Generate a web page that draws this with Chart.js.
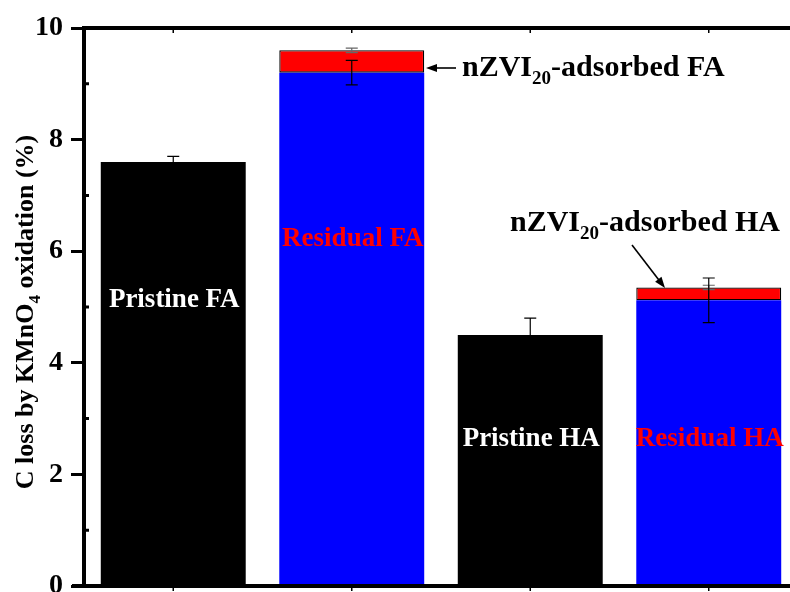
<!DOCTYPE html>
<html>
<head>
<meta charset="utf-8">
<script src="https://cdn.jsdelivr.net/npm/chart.js@4/dist/chart.umd.min.js"></script>
<style>
  html, body { margin: 0; padding: 0; background: #fff; overflow: hidden; }
  #wrap { position: relative; width: 790px; height: 592px; overflow: hidden; }
  #c { position: absolute; left: 0; top: 0; }
</style>
</head>
<body>
<div id="wrap"><canvas id="c" width="820" height="592"></canvas></div>
<script>
// Carbon loss by KMnO4 oxidation for pristine and residual fulvic / humic acid
const categories = ['Pristine FA', 'Residual FA', 'Pristine HA', 'Residual HA'];
const baseValues = [7.6, 9.2, 4.5, 5.12];          // pristine or residual fraction (%)
const adsorbedValues = [null, 0.4, null, 0.23];    // nZVI20-adsorbed fraction stacked on top (%)
const baseErrors = [0.1, 0.22, 0.3, 0.4];          // error of the lower segment
const totalErrors = [null, 0.04, null, 0.04];      // error of the stacked total
const yTicks = [0, 2, 4, 6, 8, 10];
const yMinorTicks = [1, 3, 5, 7, 9];

const SERIF = "'Liberation Serif', 'Times New Roman', Times, serif";
const barColors = ['#000000', '#0000ff', '#000000', '#0000ff'];
const labelColors = ['#ffffff', '#ff0000', '#ffffff', '#ff0000'];

// draw text made of normal and subscript runs
function richWidth(ctx, parts, size) {
  let w = 0;
  for (const p of parts) {
    ctx.font = 'bold ' + (p.sub ? Math.round(size * 0.64) : size) + 'px ' + SERIF;
    w += ctx.measureText(p.t).width;
  }
  return w;
}
function drawRich(ctx, parts, x, y, size, align) {
  const total = richWidth(ctx, parts, size);
  let cx = align === 'center' ? x - total / 2 : x;
  ctx.textAlign = 'left';
  ctx.textBaseline = 'alphabetic';
  for (const p of parts) {
    const fs = p.sub ? Math.round(size * 0.64) : size;
    ctx.font = 'bold ' + fs + 'px ' + SERIF;
    ctx.fillText(p.t, cx, p.sub ? y + size * 0.28 : y);
    cx += ctx.measureText(p.t).width;
  }
}
function arrow(ctx, x1, y1, x2, y2) {
  const ang = Math.atan2(y2 - y1, x2 - x1);
  const hl = 11, hw = 4;
  ctx.beginPath();
  ctx.moveTo(x1, y1);
  ctx.lineTo(x2 - Math.cos(ang) * hl * 0.8, y2 - Math.sin(ang) * hl * 0.8);
  ctx.stroke();
  ctx.beginPath();
  ctx.moveTo(x2, y2);
  ctx.lineTo(x2 - Math.cos(ang) * hl - Math.sin(ang) * hw, y2 - Math.sin(ang) * hl + Math.cos(ang) * hw);
  ctx.lineTo(x2 - Math.cos(ang) * hl + Math.sin(ang) * hw, y2 - Math.sin(ang) * hl - Math.cos(ang) * hw);
  ctx.closePath();
  ctx.fill();
}

const decorations = {
  id: 'decorations',
  afterDatasetsDraw(chart) {
    const ctx = chart.ctx;
    const area = chart.chartArea;
    const y = chart.scales.y;
    const x = chart.scales.x;
    ctx.save();

    // error bars
    const cap = 6;
    function errBar(cx, v, e, color) {
      const t = y.getPixelForValue(v + e), b = y.getPixelForValue(v - e);
      ctx.strokeStyle = color;
      ctx.lineWidth = 1.2;
      ctx.beginPath();
      ctx.moveTo(cx, t); ctx.lineTo(cx, b);
      ctx.moveTo(cx - cap, t); ctx.lineTo(cx + cap, t);
      ctx.moveTo(cx - cap, b); ctx.lineTo(cx + cap, b);
      ctx.stroke();
    }
    categories.forEach((c, i) => {
      const cx = x.getPixelForValue(i);
      if (totalErrors[i] != null) errBar(cx, baseValues[i] + adsorbedValues[i], totalErrors[i], '#666666');
      errBar(cx, baseValues[i], baseErrors[i], '#000000');
    });

    // labels inside the bars
    const labelBaselines = [307, 246, 446, 446];
    ctx.textAlign = 'center';
    ctx.textBaseline = 'alphabetic';
    ctx.font = 'bold 27px ' + SERIF;
    categories.forEach((c, i) => {
      ctx.fillStyle = labelColors[i];
      ctx.fillText(c, x.getPixelForValue(i) + 1, labelBaselines[i]);
    });

    // annotations for the adsorbed fraction
    ctx.fillStyle = '#000';
    ctx.strokeStyle = '#000';
    ctx.lineWidth = 1.6;
    drawRich(ctx, [{ t: 'nZVI' }, { t: '20', sub: true }, { t: '-adsorbed FA' }], 462, 76, 30, 'left');
    drawRich(ctx, [{ t: 'nZVI' }, { t: '20', sub: true }, { t: '-adsorbed HA' }], 510, 231, 30, 'left');
    arrow(ctx, 456, 68, 426, 68);
    arrow(ctx, 632, 245, 665, 288);

    // frame: top line and bottom axis
    ctx.strokeStyle = '#000';
    ctx.lineWidth = 4;
    ctx.beginPath();
    ctx.moveTo(area.left - 2, area.top); ctx.lineTo(area.right + 30, area.top);
    ctx.moveTo(area.left - 12, area.bottom); ctx.lineTo(area.right + 30, area.bottom);
    ctx.stroke();

    // category ticks on top and bottom
    ctx.lineWidth = 1.5;
    ctx.beginPath();
    categories.forEach((c, i) => {
      const cx = x.getPixelForValue(i);
      ctx.moveTo(cx, area.top); ctx.lineTo(cx, area.top + 5);
      ctx.moveTo(cx, area.bottom); ctx.lineTo(cx, area.bottom + 5);
    });
    ctx.stroke();

    // minor ticks on the value axis, pointing inward
    ctx.lineWidth = 3;
    ctx.beginPath();
    yMinorTicks.forEach(v => {
      const py = y.getPixelForValue(v);
      ctx.moveTo(area.left, py); ctx.lineTo(area.left + 5, py);
    });
    ctx.stroke();

    // value axis title
    ctx.save();
    ctx.translate(33, 312);
    ctx.rotate(-Math.PI / 2);
    ctx.fillStyle = '#000';
    drawRich(ctx, [{ t: 'C loss by KMnO' }, { t: '4', sub: true }, { t: ' oxidation (%)' }], 0, 0, 26, 'center');
    ctx.restore();

    ctx.restore();
  }
};

new Chart(document.getElementById('c'), {
  type: 'bar',
  data: {
    labels: categories,
    datasets: [
      {
        label: 'Pristine / residual',
        data: baseValues,
        backgroundColor: barColors,
        borderWidth: 0,
        barPercentage: 0.812,
        categoryPercentage: 1.0
      },
      {
        label: 'nZVI20-adsorbed',
        data: adsorbedValues,
        backgroundColor: '#ff0000',
        borderColor: '#000000',
        borderWidth: 1.3,
        borderSkipped: false,
        barPercentage: 0.812,
        categoryPercentage: 1.0
      }
    ]
  },
  options: {
    responsive: false,
    devicePixelRatio: 1,
    animation: false,
    layout: { padding: { top: 28, bottom: 6, left: 0, right: 22 } },
    plugins: { legend: { display: false }, tooltip: { enabled: false } },
    scales: {
      x: { type: 'category', stacked: true, display: false },
      y: {
        stacked: true,
        min: 0,
        max: 10,
        afterBuildTicks: s => { s.ticks = yTicks.map(v => ({ value: v })); },
        afterFit: s => { s.width = 84; s.paddingTop = 0; s.paddingBottom = 0; },
        ticks: {
          font: { family: SERIF, size: 28, weight: 'bold' },
          color: '#000',
          padding: 8
        },
        grid: { drawOnChartArea: false, drawTicks: true, tickLength: 13, tickWidth: 3, tickColor: '#000' },
        border: { display: true, color: '#000', width: 4 }
      }
    }
  },
  plugins: [decorations]
});
</script>
</body>
</html>
